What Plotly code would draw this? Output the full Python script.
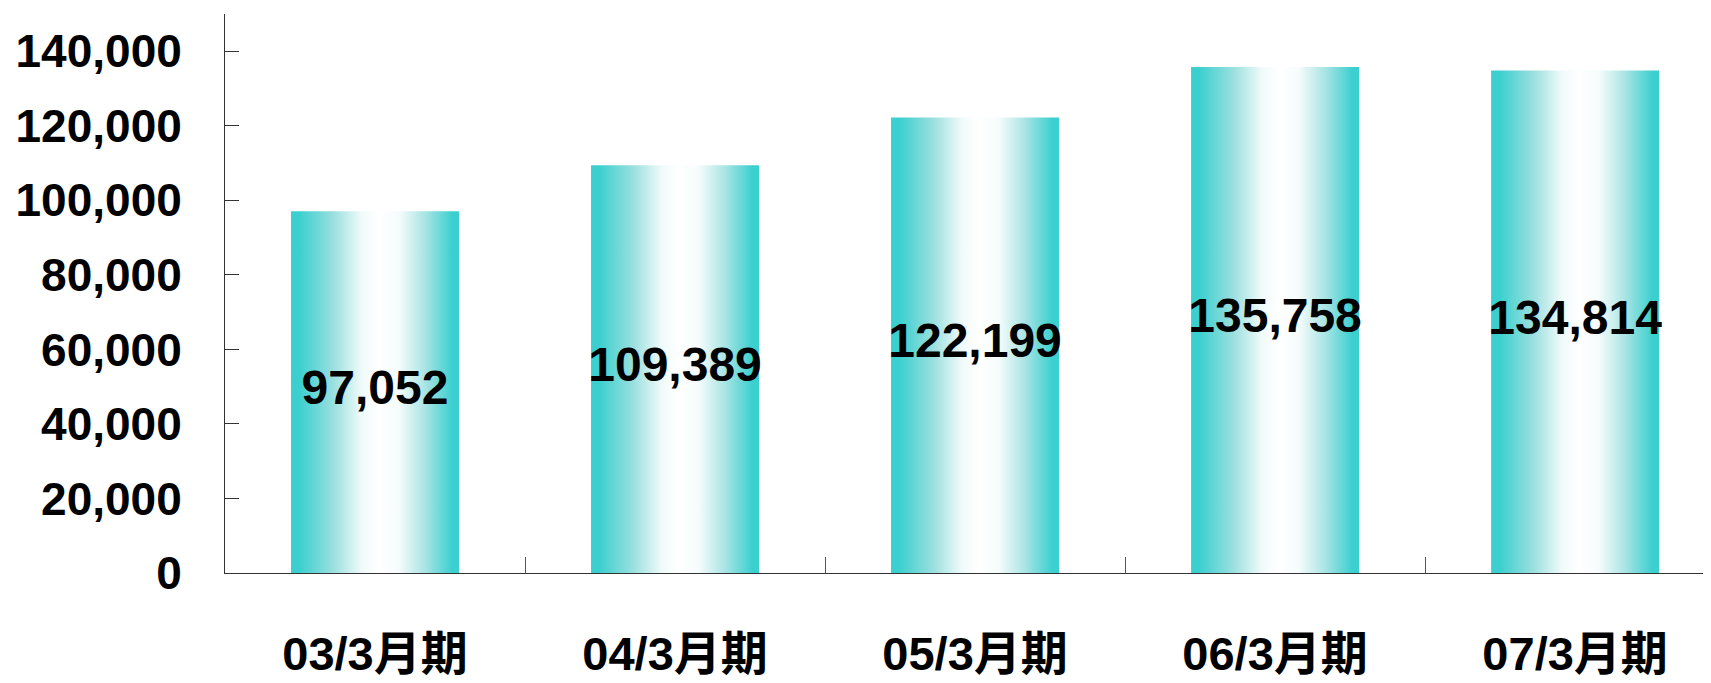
import plotly.graph_objects as go

categories = ["03/3月期", "04/3月期", "05/3月期", "06/3月期", "07/3月期"]
values = [97052, 109389, 122199, 135758, 134814]
y_ticks = [0, 20000, 40000, 60000, 80000, 100000, 120000, 140000]

TEAL = "#3CCFCF"
BAR_W = 0.56
FONT = "Liberation Sans, Arial, Noto Sans CJK JP, sans-serif"

gradient = [
    [0.0, TEAL], [0.05, TEAL], [0.25, "#9ADFDF"], [0.42, "#F0FAFA"],
    [0.52, "#FFFFFF"], [0.64, "#F6FCFC"], [0.8, "#A8E4E4"],
    [0.96, TEAL], [1.0, TEAL],
]

fig = go.Figure()
for i, v in enumerate(values):
    x0, x1 = i - BAR_W / 2, i + BAR_W / 2
    fig.add_trace(go.Scatter(
        x=[x0, x1, x1, x0, x0], y=[0, 0, v, v, 0],
        mode="lines", fill="toself", line=dict(width=0),
        fillgradient=dict(type="horizontal", colorscale=gradient),
        hoverinfo="skip", showlegend=False,
    ))

fig.add_trace(go.Scatter(
    x=list(range(len(values))), y=[v / 2 for v in values],
    mode="text", text=[f"{v:,}" for v in values],
    textfont=dict(family=FONT, size=48, color="black", weight="bold"),
    textposition="middle center", showlegend=False, hoverinfo="skip",
))

fig.update_layout(
    width=1711, height=683,
    margin=dict(l=217, r=8, t=6, b=118),
    paper_bgcolor="white", plot_bgcolor="white",
    font=dict(family=FONT, color="black"),
    showlegend=False,
)
fig.update_xaxes(
    range=[-0.5, 4.453], tickmode="array",
    tickvals=list(range(len(categories))), ticktext=categories,
    ticks="", showgrid=False, zeroline=False, automargin=False,
    showline=True, linecolor="#333333", linewidth=1,
    tickfont=dict(family=FONT, size=47, color="black", weight="bold"),
    ticklabelstandoff=40,
    minor=dict(tickmode="array", tickvals=[0.5, 1.5, 2.5, 3.5],
               ticks="inside", ticklen=16, tickcolor="#555555", tickwidth=1,
               showgrid=False),
)
fig.update_yaxes(
    range=[0, 150000], tickmode="array", tickvals=y_ticks,
    tickformat=",", ticks="inside", ticklen=14, tickcolor="#333333",
    showgrid=False, zeroline=False, automargin=False,
    showline=True, linecolor="#333333", linewidth=1,
    tickfont=dict(family=FONT, size=46, color="black", weight="bold"),
    ticklabelstandoff=33,
)

fig.write_html("out.html")
